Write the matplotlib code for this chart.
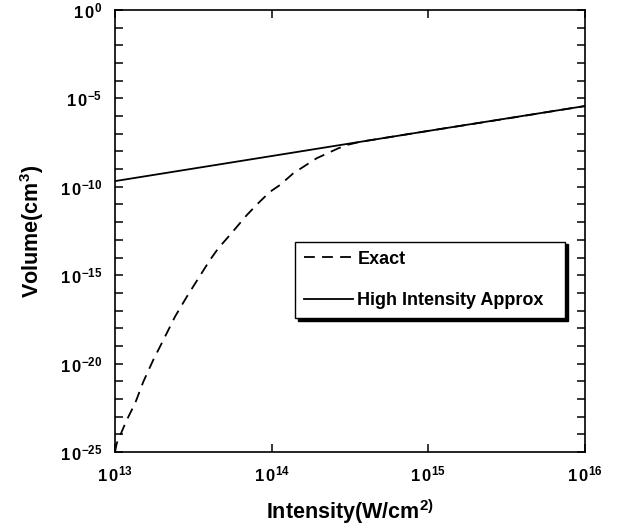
import matplotlib
matplotlib.use("Agg")
import matplotlib.pyplot as plt

plt.rcParams['font.family'] = ['Liberation Sans', 'DejaVu Sans']
plt.rcParams['font.weight'] = 'bold'
plt.rcParams['mathtext.fontset'] = 'custom'
plt.rcParams['mathtext.rm'] = 'Liberation Sans:bold'
plt.rcParams['mathtext.it'] = 'Liberation Sans:bold'
plt.rcParams['mathtext.bf'] = 'Liberation Sans:bold'
plt.rcParams['mathtext.default'] = 'bf'

# Data
intensity_exact = [1.0e13, 1.026e13, 1.189e13, 1.343e13, 1.517e13, 1.754e13, 2.032e13,
                   2.415e13, 2.871e13, 3.404e13, 4.036e13, 4.560e13, 5.420e13, 6.934e13,
                   8.222e13, 9.750e13, 1.130e14, 1.374e14, 1.936e14, 2.661e14, 3.013e14,
                   3.664e14, 1.0e15, 3.16e15, 1.0e16]
volume_exact = [1e-25, 3.1e-25, 6.5e-24, 5.6e-23, 9.5e-22, 1.6e-20, 2.1e-19,
                4.5e-18, 6.0e-17, 6.6e-16, 7.2e-15, 3.3e-14, 1.9e-13, 2.5e-12,
                1.2e-11, 5.2e-11, 1.26e-10, 5.8e-10, 4.1e-9, 1.5e-8, 2.3e-8,
                3.5e-8, 1.45e-7, 7.2e-7, 3.7e-6]
intensity_approx = [1e13, 1e14, 1e15, 1e16]
volume_approx = [2.1e-10, 5.5e-9, 1.45e-7, 3.7e-6]

x_ticks = [1e13, 1e14, 1e15, 1e16]
x_ticklabels = ['$1\\,0^{13}$', '$1\\,0^{14}$', '$1\\,0^{15}$', '$1\\,0^{16}$']
y_exponents = list(range(-25, 1))

fig = plt.figure(figsize=(6.22, 5.31), dpi=100)
ax = fig.add_axes([115/622, (531-452)/531, 470/622, 442/531])

ax.plot(intensity_exact, volume_exact, color='black', lw=1.3, linestyle=(0, (6, 4)),
        label='Exact')
ax.plot(intensity_approx, volume_approx, color='black', lw=1.3, label='High Intensity Approx')

ax.set_xscale('log')
ax.set_yscale('log')
ax.set_xlim(1e13, 1e16)
ax.set_ylim(1e-25, 1e0)

ax.set_xticks(x_ticks)
ax.set_xticklabels(x_ticklabels)
ax.set_yticks([10.0**e for e in y_exponents])
ax.set_yticklabels([f'$1\\,0^{{{e}}}$' if e % 5 == 0 else '' for e in y_exponents])
ax.minorticks_off()
ax.tick_params(axis='both', which='major', direction='in', length=6, width=1.1,
               labelsize=12, top=True, right=True)
ax.tick_params(axis='x', pad=9)
ax.tick_params(axis='y', pad=9)
for s in ax.spines.values():
    s.set_linewidth(1.2)

ax.set_xlabel('Intensity(W/cm$^{2)}$', fontsize=15.5, fontweight='bold', labelpad=9)
ax.set_ylabel('Volume(cm$^3$)', fontsize=15.5, fontweight='bold', labelpad=10)

leg = ax.legend(loc='lower left', bbox_to_anchor=(0.383, 0.303, 0.574, 0.17),
                mode='expand', fancybox=False, edgecolor='black', framealpha=1,
                shadow={'color': 'black', 'alpha': 1}, fontsize=13,
                labelspacing=1.35, borderpad=0.5, handlelength=2.7,
                handletextpad=0.25, borderaxespad=0)
leg.get_frame().set_linewidth(1.0)

fig.savefig('out.png', dpi=100)
